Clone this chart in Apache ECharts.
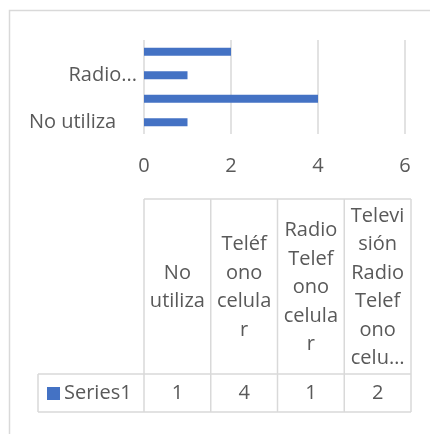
<!DOCTYPE html>
<html>
<head>
<meta charset="utf-8">
<script src="https://cdn.jsdelivr.net/npm/echarts@6/dist/echarts.min.js"></script>
<style>
html,body{margin:0;padding:0;background:#fff;}
#chart{width:430px;height:434px;}
</style>
</head>
<body>
<div id="chart"></div>
<script>
var categories = ['No utiliza', 'Teléfono celular', 'Radio Telefono celular', 'Televisión Radio Telefono celular'];
var tableHeaders = ['No\nutiliza', 'Teléf\nono\ncelula\nr', 'Radio\nTelef\nono\ncelula\nr', 'Televi\nsión\nRadio\nTelef\nono\ncelu…'];
var seriesName = 'Series1';
var values = [1, 4, 1, 2];
var xTicks = [0, 2, 4, 6];

var FONT = '"Open Sans", sans-serif';
var TXT = '#595959';
var LINE = '#d9d9d9';
var BLUE = '#4472C4';

var chart = echarts.init(document.getElementById('chart'), null, {renderer: 'canvas'});

// table geometry
var tLeft = 144, tRight = 411, hTop = 199, hBottom = 374, rBottom = 412, labelLeft = 38;
var colW = (tRight - tLeft) / categories.length;

var graphics = [];
// outer chart border
graphics.push({type: 'rect', shape: {x: 9.5, y: 10.5, width: 600, height: 600}, style: {fill: 'none', stroke: LINE, lineWidth: 1.5}, silent: true});

function line(x1, y1, x2, y2) {
  graphics.push({type: 'line', shape: {x1: x1, y1: y1, x2: x2, y2: y2}, style: {stroke: LINE, lineWidth: 1.5}, silent: true});
}
// table lines
line(tLeft, hTop, tRight, hTop);
line(labelLeft, hBottom, tRight, hBottom);
line(labelLeft, rBottom, tRight, rBottom);
line(labelLeft, hBottom, labelLeft, rBottom);
for (var i = 0; i <= categories.length; i++) {
  var x = tLeft + i * colW;
  line(x, hTop, x, rBottom);
}
// header texts and values
for (var j = 0; j < categories.length; j++) {
  var cx = tLeft + (j + 0.5) * colW;
  graphics.push({type: 'text', x: cx, y: (hTop + hBottom) / 2 + 1, style: {text: tableHeaders[j], fill: TXT, font: '20px ' + FONT, textAlign: 'center', textVerticalAlign: 'middle', lineHeight: 28.5}, silent: true});
  graphics.push({type: 'text', x: cx, y: (hBottom + rBottom) / 2, style: {text: String(values[j]), fill: TXT, font: '20px ' + FONT, textAlign: 'center', textVerticalAlign: 'middle'}, silent: true});
}
// legend key + series name
graphics.push({type: 'rect', shape: {x: 47, y: 387, width: 13, height: 13}, style: {fill: BLUE}, silent: true});
graphics.push({type: 'text', x: 64, y: (hBottom + rBottom) / 2, style: {text: seriesName, fill: TXT, font: '20px ' + FONT, textAlign: 'left', textVerticalAlign: 'middle'}, silent: true});

chart.setOption({
  animation: false,
  textStyle: {fontFamily: FONT},
  grid: {left: 144, right: 25, top: 40, bottom: 300, containLabel: false},
  xAxis: {
    type: 'value', min: xTicks[0], max: xTicks[xTicks.length - 1], interval: 2,
    axisLine: {show: false}, axisTick: {show: false},
    splitLine: {show: true, lineStyle: {color: LINE, width: 1.5}},
    axisLabel: {color: TXT, fontSize: 20, fontFamily: FONT, margin: 22}
  },
  yAxis: {
    type: 'category', data: categories,
    axisLine: {show: false}, axisTick: {show: false},
    axisLabel: {
      color: TXT, fontSize: 20, fontFamily: FONT, margin: 7, interval: 1,
      formatter: function (v) { return v.length > 12 ? v.split(' ')[0] + '...' : v + '\u00a0\u00a0\u00a0\u00a0'; }
    }
  },
  series: [{
    name: seriesName, type: 'bar', data: values, barWidth: 8,
    itemStyle: {color: BLUE}
  }],
  graphic: graphics
});
</script>
</body>
</html>
